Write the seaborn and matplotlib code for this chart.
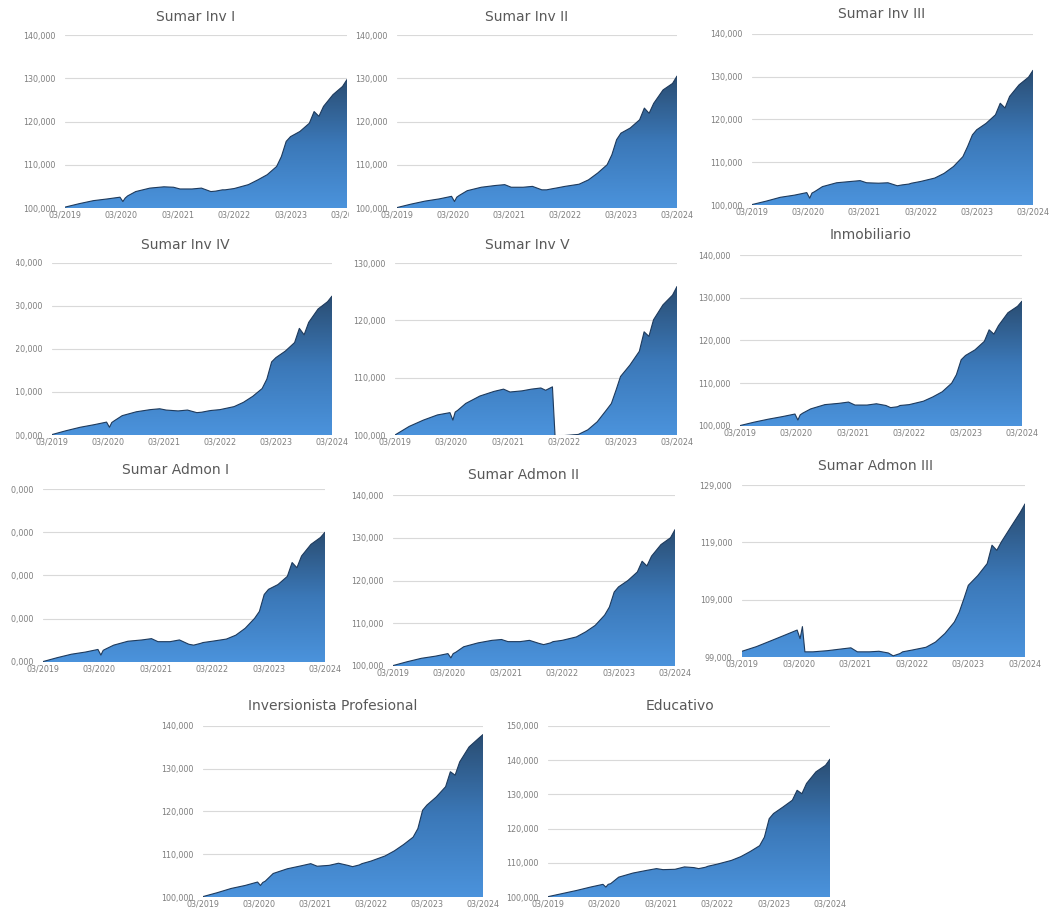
import numpy as np
import pandas as pd
import matplotlib
matplotlib.use("Agg")
import matplotlib.pyplot as plt
import matplotlib.dates as mdates
from matplotlib.colors import LinearSegmentedColormap
from matplotlib.patches import PathPatch, Rectangle
from matplotlib.ticker import FixedLocator, FuncFormatter
import seaborn as sns

# ---------------- data (values in thousands) ----------------
DATES = ["2019-03-01", "2019-06-01", "2019-09-01", "2019-12-01", "2020-02-20",
         "2020-03-10", "2020-03-25", "2020-04-10", "2020-06-01", "2020-09-01",
         "2020-12-01", "2021-02-01", "2021-03-15", "2021-06-01", "2021-08-01",
         "2021-10-01", "2021-11-01", "2021-12-15", "2022-01-01", "2022-03-01",
         "2022-06-01", "2022-08-01", "2022-10-01", "2022-12-01", "2023-01-01",
         "2023-02-01", "2023-03-01", "2023-05-01", "2023-07-01", "2023-08-01",
         "2023-09-01", "2023-10-01", "2023-12-01", "2024-02-01", "2024-03-01"]

TITLES = ["Sumar Inv I", "Sumar Inv II", "Sumar Inv III", "Sumar Inv IV",
          "Sumar Inv V", "Inmobiliario", "Sumar Admon I", "Sumar Admon II",
          "Sumar Admon III", "Inversionista Profesional", "Educativo"]

INV_I = [100.2, 101.0, 101.7, 102.1, 102.5, 101.5, 102.3, 102.8, 103.8, 104.6,
         104.9, 104.8, 104.4, 104.4, 104.6, 103.8, 103.9, 104.2, 104.2, 104.5,
         105.4, 106.5, 107.7, 109.6, 111.9, 115.4, 116.5, 117.7, 119.6, 122.3,
         121.2, 123.5, 126.2, 128.1, 129.7]
INV_II = [100.1, 100.9, 101.6, 102.1, 102.7, 101.5, 102.5, 102.9, 104.0, 104.8,
          105.2, 105.4, 104.8, 104.8, 105.0, 104.2, 104.2, 104.5, 104.6, 105.0,
          105.5, 106.5, 108.1, 110.0, 112.3, 115.8, 117.3, 118.5, 120.4, 123.1,
          121.9, 124.2, 127.3, 128.8, 130.5]
INV_III = [100.1, 100.9, 101.8, 102.3, 102.9, 101.6, 102.8, 103.1, 104.3, 105.2,
           105.5, 105.7, 105.2, 105.1, 105.2, 104.5, 104.7, 104.9, 105.1, 105.5,
           106.3, 107.4, 109.0, 111.3, 113.7, 116.4, 117.6, 119.1, 121.1, 123.8,
           122.7, 125.4, 128.1, 129.9, 131.5]
INV_IV = [100.1, 101.0, 101.8, 102.4, 103.0, 101.8, 102.9, 103.3, 104.5, 105.4,
          105.9, 106.1, 105.8, 105.6, 105.8, 105.2, 105.3, 105.6, 105.7, 105.9,
          106.6, 107.6, 109.0, 110.8, 113.0, 117.0, 118.0, 119.5, 121.5, 124.8,
          123.3, 126.2, 129.3, 131.0, 132.3]
INV_V = [100.0, 101.5, 102.6, 103.5, 103.9, 102.6, 104.0, 104.3, 105.5, 106.8,
         107.6, 108.0, 107.5, 107.7, 108.0, 108.2, 107.8, 108.4, 99.8, 99.9,
         100.1, 100.9, 102.3, 104.4, 105.5, 107.9, 110.2, 112.2, 114.6, 118.0,
         117.2, 120.1, 122.7, 124.4, 125.9]
INMOBILIARIO = [100.1, 100.9, 101.6, 102.2, 102.8, 101.4, 102.6, 103.0, 104.0, 105.0,
                105.3, 105.6, 104.9, 104.9, 105.2, 104.8, 104.3, 104.5, 104.8, 105.0,
                105.8, 106.8, 108.0, 110.0, 112.0, 115.5, 116.5, 117.8, 119.8, 122.5,
                121.5, 123.5, 126.5, 128.0, 129.2]
ADMON_I = [100.1, 101.0, 101.8, 102.3, 102.9, 101.6, 102.7, 103.0, 103.9, 104.8,
           105.1, 105.4, 104.7, 104.7, 105.1, 104.1, 103.9, 104.3, 104.5, 104.8,
           105.3, 106.2, 107.8, 110.1, 111.7, 115.6, 116.8, 117.9, 119.8, 123.0,
           121.8, 124.5, 127.2, 128.8, 130.0]
ADMON_II = [100.1, 101.0, 101.8, 102.3, 102.9, 101.9, 102.9, 103.2, 104.5, 105.4,
            106.0, 106.2, 105.7, 105.7, 106.0, 105.3, 105.0, 105.4, 105.7, 106.0,
            106.8, 108.0, 109.5, 111.9, 113.8, 117.3, 118.5, 120.0, 122.0, 124.5,
            123.4, 125.7, 128.4, 130.0, 131.9]
ADMON_III = [100.0, 100.8, 101.8, 102.8, 103.7, 102.2, 104.3, 99.9, 99.9, 100.1,
             100.4, 100.6, 99.9, 99.9, 100.0, 99.7, 99.2, 99.6, 99.9, 100.2,
             100.7, 101.6, 103.1, 105.1, 106.8, 109.2, 111.5, 113.2, 115.3, 118.5,
             117.6, 119.1, 121.7, 124.3, 125.7]
INV_PROF = [100.1, 101.0, 102.0, 102.7, 103.5, 102.7, 103.4, 103.7, 105.5, 106.6,
            107.3, 107.8, 107.2, 107.4, 107.9, 107.4, 107.1, 107.5, 107.8, 108.4,
            109.6, 110.8, 112.3, 114.0, 116.0, 120.3, 121.5, 123.4, 125.8, 129.3,
            128.5, 131.6, 135.1, 137.1, 138.0]
EDUCATIVO = [100.1, 101.0, 101.9, 102.9, 103.7, 102.9, 103.7, 103.9, 105.8, 107.0,
             107.8, 108.3, 108.0, 108.1, 108.8, 108.6, 108.3, 108.7, 109.0, 109.6,
             110.7, 111.8, 113.3, 115.0, 117.5, 122.9, 124.4, 126.3, 128.3, 131.2,
             130.2, 133.2, 136.6, 138.5, 140.3]

SERIES = [INV_I, INV_II, INV_III, INV_IV, INV_V, INMOBILIARIO,
          ADMON_I, ADMON_II, ADMON_III, INV_PROF, EDUCATIVO]
Y_MIN = [100, 100, 100, 100, 100, 100, 100, 100, 99, 100, 100]
Y_MAX = [140, 140, 140, 140, 130, 140, 140, 140, 129, 140, 150]
Y_STEP = 10
X_START, X_END = "2019-03-01", "2024-03-01"

# ---------------- layout (pixels) ----------------
W, H = 1052, 913
# left, top, right, bottom of plot area
PLOT_RECTS = [(65, 35, 347, 208), (397, 35, 677, 208), (752, 34, 1033, 205),
              (52, 263, 332, 435), (395, 263, 677, 435), (740, 255, 1022, 426),
              (43, 489, 325, 662), (393, 495, 675, 666), (742, 485, 1025, 657),
              (203, 726, 483, 897), (548, 726, 830, 897)]
TITLE_POS = [(196, 17), (527, 17), (882, 14), (185, 245), (527, 245), (871, 235),
             (175, 470), (523, 475), (875, 466), (333, 706), (680, 706)]

sns.set_style("white")
plt.rcParams["font.family"] = ["DejaVu Sans"]

fig = plt.figure(figsize=(W / 100, H / 100), dpi=100)
fig.patch.set_facecolor("white")

cmap = LinearSegmentedColormap.from_list("grad", ["#4b93dc", "#3b78b8", "#2a4d72"])
dates = pd.to_datetime(DATES)
xnum = mdates.date2num(dates)


def px_rect(x0, y0, x1, y1, z):
    fig.add_artist(Rectangle((x0 / W, 1 - y1 / H), (x1 - x0) / W, (y1 - y0) / H,
                             transform=fig.transFigure, facecolor="white",
                             edgecolor="none", zorder=z))


for i, (title, vals) in enumerate(zip(TITLES, SERIES)):
    L, T, R, B = PLOT_RECTS[i]
    ax = fig.add_axes([L / W, 1 - B / H, (R - L) / W, (B - T) / H])
    if i > 0:
        ax.set_zorder(1)
    ax.set_facecolor("none")
    ymin, ymax = Y_MIN[i], Y_MAX[i]
    df = pd.DataFrame({"date": dates, "value": vals})

    poly = ax.fill_between(df["date"], ymin, df["value"], facecolor="none",
                           edgecolor="none")
    path = poly.get_paths()[0]
    clip = PathPatch(path, transform=ax.transData, facecolor="none",
                     edgecolor="none")
    ax.add_patch(clip)
    grad = np.linspace(0, 1, 256).reshape(-1, 1)
    im = ax.imshow(grad, extent=[xnum[0], xnum[-1], ymin, max(vals)],
                   origin="lower", aspect="auto", cmap=cmap, zorder=2,
                   interpolation="bilinear")
    im.set_clip_path(clip)

    sns.lineplot(data=df, x="date", y="value", ax=ax, color="#1e3a5c",
                 linewidth=0.8, zorder=3)

    ax.set_xlim(pd.Timestamp(X_START), pd.Timestamp(X_END))
    ax.set_ylim(ymin, ymax)
    ax.set_aspect("auto")
    ax.yaxis.set_major_locator(FixedLocator(np.arange(ymin, ymax + 0.5, Y_STEP)))
    ax.yaxis.set_major_formatter(FuncFormatter(lambda v, _: f"{v * 1000:,.0f}"))
    ax.xaxis.set_major_locator(mdates.YearLocator(base=1, month=3, day=1))
    ax.xaxis.set_major_formatter(mdates.DateFormatter("%m/%Y"))
    ax.set_xlabel("")
    ax.set_ylabel("")
    ax.grid(axis="y", color="#d9d9d9", linewidth=0.8, zorder=0)
    ax.grid(axis="x", visible=False)
    ax.set_axisbelow(True)
    for sp in ax.spines.values():
        sp.set_visible(False)
    ax.tick_params(axis="both", length=0, labelsize=5.8, labelcolor="#7f7f7f")
    ax.tick_params(axis="y", pad=7)
    ax.tick_params(axis="x", pad=2)

    fig.text(TITLE_POS[i][0] / W, 1 - TITLE_POS[i][1] / H, title,
             ha="center", va="center", fontsize=10, color="#595959",
             zorder=5)

    if i == 0:
        # white chart area of the second chart overlapping the first one
        px_rect(349, 0, 700, 225, 0.5)

# left edges of charts cut off in the source picture
px_rect(0, 250, 16, 445, 3)
px_rect(0, 478, 11, 672, 3)

fig.savefig("out.png", dpi=100, facecolor="white")
